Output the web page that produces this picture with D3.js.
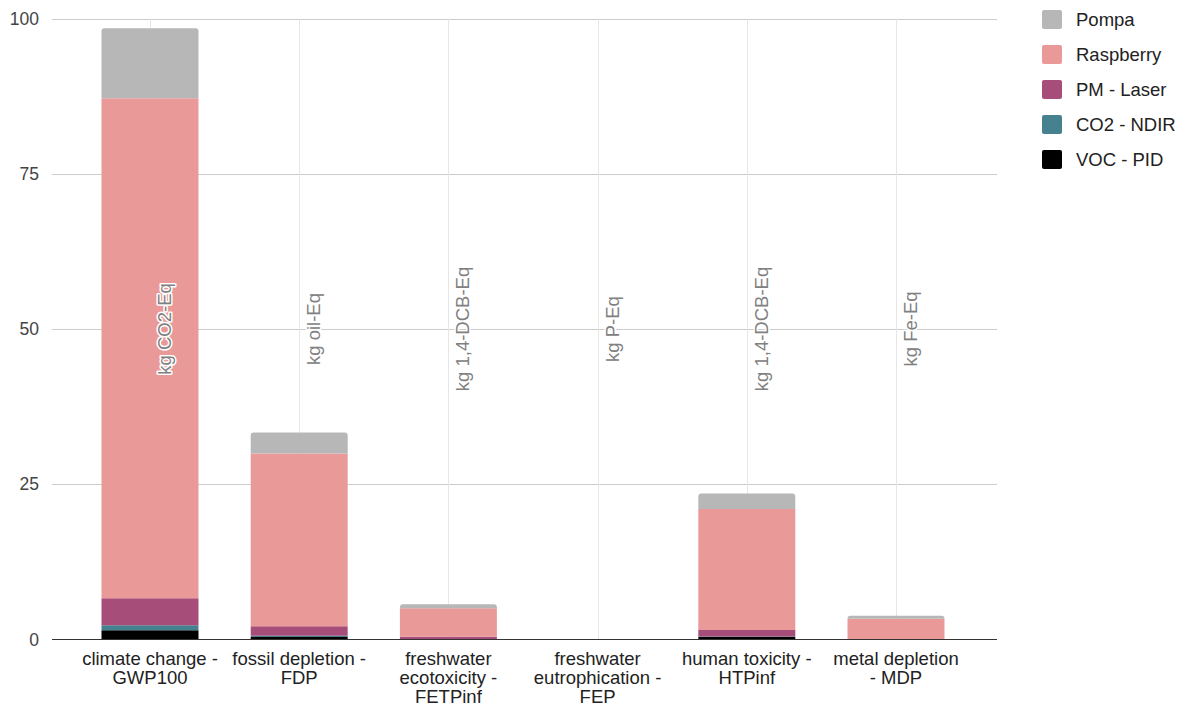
<!DOCTYPE html>
<html><head><meta charset="utf-8">
<script src="https://cdn.jsdelivr.net/npm/d3@7"></script>
<style>body{margin:0;background:#fff;} svg{display:block;font-family:"Liberation Sans",Arial,sans-serif;}</style>
</head><body>
<svg id="chart" width="1185" height="706"></svg>
<script>
const categories = [
  ["climate change -", "GWP100"],
  ["fossil depletion -", "FDP"],
  ["freshwater", "ecotoxicity -", "FETPinf"],
  ["freshwater", "eutrophication -", "FEP"],
  ["human toxicity -", "HTPinf"],
  ["metal depletion", "- MDP"]
];
const units = ["kg CO2-Eq", "kg oil-Eq", "kg 1,4-DCB-Eq", "kg P-Eq", "kg 1,4-DCB-Eq", "kg Fe-Eq"];
const seriesNames = ["VOC - PID", "CO2 - NDIR", "PM - Laser", "Raspberry", "Pompa"];
const vocPID     = [1.5, 0.4, 0.05, 0.005, 0.45, 0.02];
const co2NDIR    = [0.8, 0.2, 0.03, 0.002, 0.05, 0.01];
const pmLaser    = [4.35, 1.55, 0.35, 0.01, 1.03, 0.05];
const raspberry  = [80.5, 27.8, 4.6, 0.05, 19.5, 3.25];
const pompa      = [11.3, 3.4, 0.65, 0.01, 2.5, 0.48];
const yTicks = [0, 25, 50, 75, 100];
const colors = ["#000000", "#45818e", "#a64d79", "#ea9999", "#b7b7b7"];
const annotationValue = 50;

const FS = 18.5;
const svg = d3.select("#chart");
const x = d3.scaleBand().domain(d3.range(categories.length)).range([75.4, 970.6]).paddingInner(0.35).paddingOuter(0.175);
const xc = i => x(i) + x.bandwidth() / 2;
const y = d3.scaleLinear().domain([0, 100]).range([639.5, 18.5]);
const gridL = 52, gridR = 997;

// horizontal gridlines
svg.append("g").selectAll("line").data(yTicks.filter(t => t > 0)).join("line")
  .attr("x1", gridL).attr("x2", gridR)
  .attr("y1", d => Math.round(y(d)) + 0.5).attr("y2", d => Math.round(y(d)) + 0.5)
  .attr("stroke", "#cccccc").attr("stroke-width", 1);
// vertical gridlines
svg.append("g").selectAll("line").data(d3.range(categories.length)).join("line")
  .attr("x1", d => Math.round(xc(d)) + 0.5).attr("x2", d => Math.round(xc(d)) + 0.5)
  .attr("y1", y(100)).attr("y2", y(0))
  .attr("stroke", "#e6e6e6").attr("stroke-width", 1);

// y labels
const yAxis = d3.axisLeft(y).tickValues(yTicks).tickSize(0).tickPadding(0);
const ya = svg.append("g").attr("transform", "translate(39,0)").call(yAxis);
ya.select(".domain").remove();
ya.selectAll("text").attr("font-size", 17.5).attr("fill", "#444").attr("font-family", "Liberation Sans, Arial, sans-serif");

// stacked bars
const table = categories.map((c, i) => ({i, v: [vocPID[i], co2NDIR[i], pmLaser[i], raspberry[i], pompa[i]]}));
const keys = d3.range(seriesNames.length);
const stack = d3.stack().keys(keys).value((d, k) => d.v[k]);
const layers = stack(table);
const gb = svg.append("g");
layers.forEach((layer, li) => {
  gb.append("g").attr("fill", colors[li]).selectAll("path").data(layer).join("path")
    .attr("d", d => {
      const x0 = x(d.data.i), w = x.bandwidth();
      const yt = y(d[1]), yb = y(d[0]);
      const h = yb - yt;
      if (li === layers.length - 1 && h > 0.5) {
        const r = Math.min(3, h);
        return `M${x0},${yb}V${yt + r}Q${x0},${yt} ${x0 + r},${yt}H${x0 + w - r}Q${x0 + w},${yt} ${x0 + w},${yt + r}V${yb}Z`;
      }
      return `M${x0},${yb}V${yt}H${x0 + w}V${yb}Z`;
    });
});

// baseline
svg.append("line").attr("x1", gridL).attr("x2", gridR).attr("y1", 639.5).attr("y2", 639.5)
  .attr("stroke", "#333").attr("stroke-width", 1.2);

// annotations
svg.append("g").selectAll("text").data(units).join("text")
  .attr("transform", (d, i) => `translate(${xc(i) + 21},${y(annotationValue)}) rotate(-90)`)
  .attr("text-anchor", "middle")
  .attr("font-size", FS)
  .attr("fill", "#808080")
  .attr("stroke", "#fff").attr("stroke-width", 3).attr("paint-order", "stroke")
  .attr("stroke-linejoin", "round")
  .text(d => d);

// x labels
const xl = svg.append("g").selectAll("text").data(categories).join("text")
  .attr("text-anchor", "middle").attr("font-size", FS).attr("fill", "#222")
  .attr("x", (d, i) => xc(i)).attr("y", 665);
xl.selectAll("tspan").data(d => d).join("tspan")
  .attr("x", function() { return d3.select(this.parentNode).attr("x"); })
  .attr("dy", (d, j) => j === 0 ? 0 : 19)
  .text(d => d);

// legend
const legendOrder = [4, 3, 2, 1, 0];
const lg = svg.append("g").selectAll("g").data(legendOrder).join("g")
  .attr("transform", (d, j) => `translate(1042,${10 + j * 35})`);
lg.append("rect").attr("width", 20).attr("height", 19).attr("rx", 2).attr("fill", d => colors[d]);
lg.append("text").attr("x", 34).attr("y", 16).attr("font-size", FS).attr("fill", "#222").text(d => seriesNames[d]);
</script>
</body></html>
